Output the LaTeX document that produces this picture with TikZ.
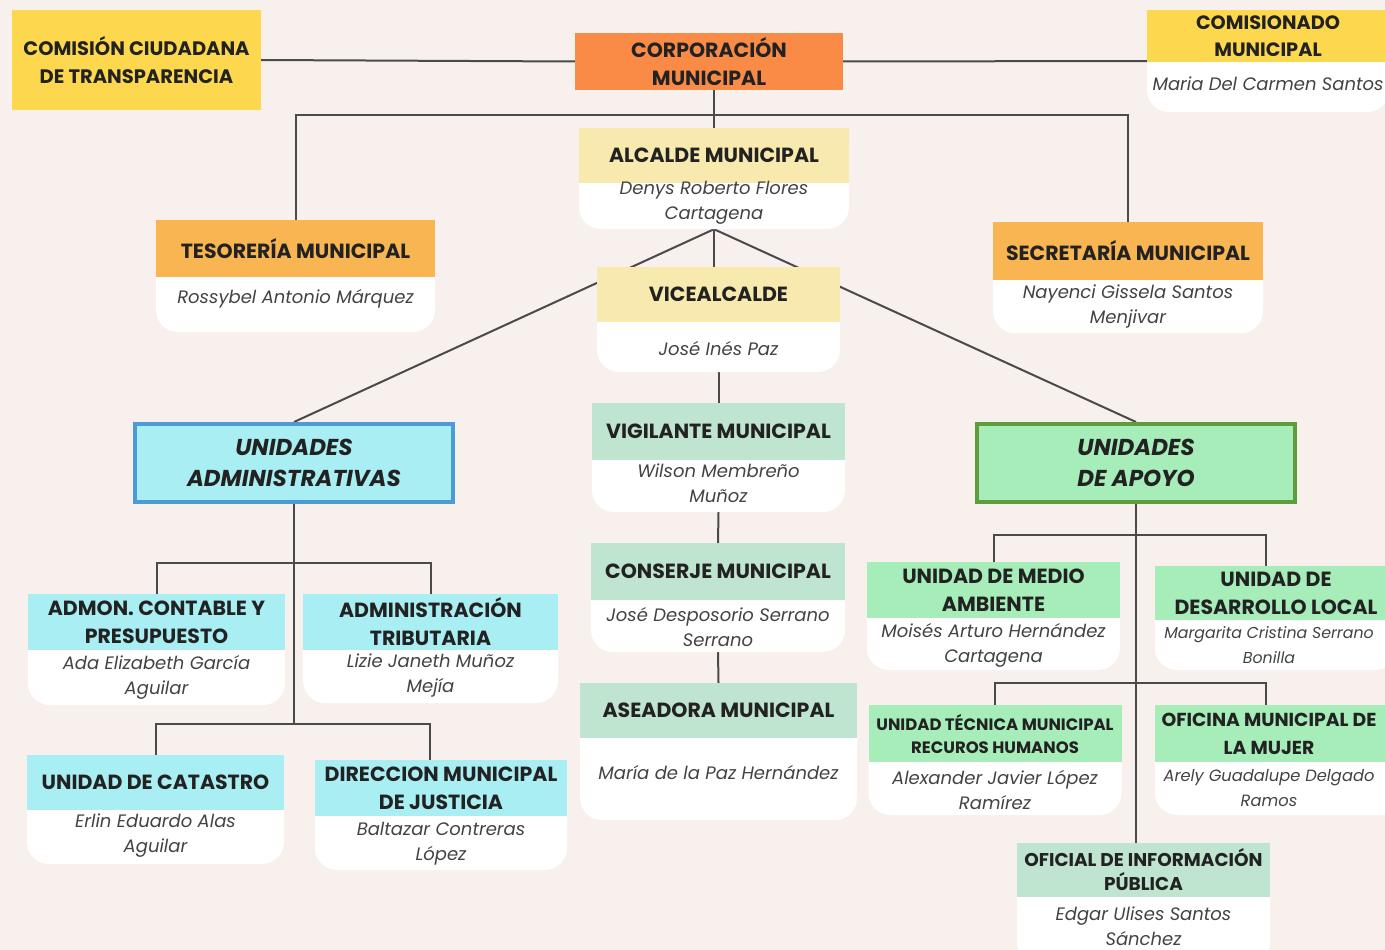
\documentclass[tikz,border=0pt]{standalone}
\usepackage{fontspec}
\setmainfont{Poppins}
\usetikzlibrary{positioning}
\pgfdeclarelayer{back}
\pgfsetlayers{back,main}

\definecolor{fondo}{HTML}{F7F0EC}
\definecolor{linea}{HTML}{4A4A4A}
\definecolor{texto}{HTML}{222222}
\definecolor{amarillo}{HTML}{FDD84F}
\definecolor{naranja}{HTML}{F98B47}
\definecolor{crema}{HTML}{F8EAAE}
\definecolor{dorado}{HTML}{F8B552}
\definecolor{celeste}{HTML}{A9EEF3}
\definecolor{azul}{HTML}{4C9BD6}
\definecolor{verde}{HTML}{A6EDB9}
\definecolor{verdeosc}{HTML}{5E9C3C}
\definecolor{menta}{HTML}{BFE4CF}

\begin{document}
\begin{tikzpicture}[x=1pt, y=-1pt,
    link/.style={linea, line width=2pt},
    card/.style={fill=white, rounded corners=22pt, inner sep=0pt},
    hdr/.style={anchor=north, inner sep=0pt, align=center, text=texto,
        font=\bfseries\fontsize{20.5}{28}\selectfont},
    who/.style={inner sep=0pt, align=center, text=texto!85,
        font=\itshape\fontsize{18}{25}\selectfont},
    unidad/.style={line width=4pt, inner sep=0pt, align=center, text=texto,
        minimum width=318pt, minimum height=78pt,
        font=\bfseries\itshape\fontsize{23}{31}\selectfont}]
    \useasboundingbox (0,0) rectangle (1385,950);
    \clip (0,0) rectangle (1385,950);

    % Top row
    \node[hdr, anchor=center, fill=amarillo, minimum width=249pt, minimum height=100pt, font=\bfseries\fontsize{19.5}{28}\selectfont] (cct) at (136.5,60) {COMISIÓN CIUDADANA\\DE TRANSPARENCIA};
    \node[hdr, anchor=center, fill=naranja, minimum width=268pt, minimum height=57pt] (corp) at (709,61.5) {CORPORACIÓN\\MUNICIPAL};

    \node[card, minimum width=242pt, minimum height=102pt] (comi) at (1268,61) {};
    \node[hdr, fill=amarillo, minimum width=242pt, minimum height=52pt, font=\bfseries\fontsize{19.3}{27}\selectfont] (comih) at (comi.north) {COMISIONADO\\MUNICIPAL};
    \node[who] (comin) at (1268,84) {Maria Del Carmen Santos};

    % Alcalde, tesoreria, secretaria
    \node[card, minimum width=270pt, minimum height=101pt] (alc) at (714,178.5) {};
    \node[hdr, fill=crema, minimum width=270pt, minimum height=55pt] (alch) at (alc.north) {ALCALDE MUNICIPAL};
    \node[who] (alcn) at (714,202.5) {Denys Roberto Flores\\Cartagena};

    \node[card, minimum width=279pt, minimum height=112pt] (tes) at (295.5,276) {};
    \node[hdr, fill=dorado, minimum width=279pt, minimum height=57pt] (tesh) at (tes.north) {TESORERÍA MUNICIPAL};
    \node[who] (tesn) at (295.5,299) {Rossybel Antonio Márquez};

    \node[card, minimum width=270pt, minimum height=111pt] (sec) at (1128,277.5) {};
    \node[hdr, fill=dorado, minimum width=270pt, minimum height=58pt] (sech) at (sec.north) {SECRETARÍA MUNICIPAL};
    \node[who] (secn) at (1128,306.5) {Nayenci Gissela Santos\\Menjivar};

    % Vicealcalde
    \node[card, minimum width=243pt, minimum height=105pt] (vice) at (718.5,319.5) {};
    \node[hdr, fill=crema, minimum width=243pt, minimum height=55pt] (viceh) at (vice.north) {VICEALCALDE};
    \node[who] (vicen) at (718.5,349) {José Inés Paz};

    % Unidades
    \node[unidad, draw=azul, fill=celeste] (ua) at (294,463) {UNIDADES\\ADMINISTRATIVAS};
    \node[unidad, draw=verdeosc, fill=verde] (ap) at (1136,463) {UNIDADES\\DE APOYO};

    % Center column
    \node[card, minimum width=253pt, minimum height=109pt] (vig) at (718.5,457.5) {};
    \node[hdr, fill=menta, minimum width=253pt, minimum height=57pt] (vigh) at (vig.north) {VIGILANTE MUNICIPAL};
    \node[who] (vign) at (718.5,483.5) {Wilson Membreño\\Muñoz};

    \node[card, minimum width=254pt, minimum height=109pt] (con) at (718,597.5) {};
    \node[hdr, fill=menta, minimum width=254pt, minimum height=57pt] (conh) at (con.north) {CONSERJE MUNICIPAL};
    \node[who] (conn) at (718,627.5) {José Desposorio Serrano\\Serrano};

    \node[card, minimum width=277pt, minimum height=137pt] (ase) at (718.5,751.5) {};
    \node[hdr, fill=menta, minimum width=277pt, minimum height=55pt] (aseh) at (ase.north) {ASEADORA MUNICIPAL};
    \node[who] (asen) at (718.5,773) {María de la Paz Hernández};

    % Unidades administrativas
    \node[card, minimum width=257pt, minimum height=111pt] (adm) at (156.5,649.5) {};
    \node[hdr, fill=celeste, minimum width=257pt, minimum height=56pt] (admh) at (adm.north) {ADMON. CONTABLE Y\\PRESUPUESTO};
    \node[who] (admn) at (156.5,677.5) {Ada Elizabeth García\\Aguilar};

    \node[card, minimum width=255pt, minimum height=109pt] (trib) at (430.5,648.5) {};
    \node[hdr, fill=celeste, minimum width=255pt, minimum height=56pt] (tribh) at (trib.north) {ADMINISTRACIÓN\\TRIBUTARIA};
    \node[who] (tribn) at (430.5,675) {Lizie Janeth Muñoz\\Mejía};

    \node[card, minimum width=257pt, minimum height=109pt] (cat) at (155.5,809.5) {};
    \node[hdr, fill=celeste, minimum width=257pt, minimum height=55pt] (cath) at (cat.north) {UNIDAD DE CATASTRO};
    \node[who] (catn) at (155.5,835.5) {Erlin Eduardo Alas\\Aguilar};

    \node[card, minimum width=252pt, minimum height=110pt] (dir) at (441,815) {};
    \node[hdr, fill=celeste, minimum width=252pt, minimum height=56pt] (dirh) at (dir.north) {DIRECCION MUNICIPAL\\DE JUSTICIA};
    \node[who] (dirn) at (441,844) {Baltazar Contreras\\López};

    % Unidades de apoyo
    \node[card, minimum width=253pt, minimum height=108pt] (uma) at (993.5,616) {};
    \node[hdr, fill=verde, minimum width=253pt, minimum height=56pt] (umah) at (uma.north) {UNIDAD DE MEDIO\\AMBIENTE};
    \node[who] (uman) at (993.5,645) {Moisés Arturo Hernández\\Cartagena};

    \node[card, minimum width=242pt, minimum height=104pt] (udl) at (1276,618) {};
    \node[hdr, fill=verde, minimum width=242pt, minimum height=54pt] (udlh) at (udl.north) {UNIDAD DE\\DESARROLLO LOCAL};
    \node[who, font=\itshape\fontsize{15.8}{25}\selectfont] (udln) at (1269,645) {Margarita Cristina Serrano\\Bonilla};

    \node[card, minimum width=253pt, minimum height=110pt] (utm) at (995,760) {};
    \node[hdr, fill=verde, minimum width=253pt, minimum height=57pt, font=\bfseries\fontsize{16.5}{23}\selectfont] (utmh) at (utm.north) {UNIDAD TÉCNICA MUNICIPAL\\RECUROS HUMANOS};
    \node[who] (utmn) at (995,789.5) {Alexander Javier López\\Ramírez};

    \node[card, minimum width=254pt, minimum height=110pt] (omm) at (1282,760) {};
    \node[hdr, fill=verde, minimum width=254pt, minimum height=57pt] (ommh) at (omm.north) {};
    \node[hdr, anchor=center, font=\bfseries\fontsize{18.8}{28}\selectfont] (ommt) at (1269,734) {OFICINA MUNICIPAL DE\\LA MUJER};
    \node[who, font=\itshape\fontsize{16.3}{25}\selectfont] (ommn) at (1269,788) {Arely Guadalupe Delgado\\Ramos};

    \node[card, minimum width=253pt, minimum height=122pt] (ofi) at (1143.5,904) {};
    \node[hdr, fill=menta, minimum width=253pt, minimum height=54pt, font=\bfseries\fontsize{18.5}{24}\selectfont] (ofih) at (ofi.north) {OFICIAL DE INFORMACIÓN\\PÚBLICA};
    \node[who] (ofin) at (1143.5,926.5) {Edgar Ulises Santos\\Sánchez};

    % Connectors, behind the cards
    \begin{pgfonlayer}{back}
        \fill[fondo] (0,0) rectangle (1385,950);
        \draw[link] (cct.east) -- (corp.west);
        \draw[link] (corp.east) -- (comi.west);
        \draw[link] (alc.north |- corp.south) -- (alc.north);
        \coordinate (top) at (714,115);
        \draw[link] (tes.north) |- (top) -| (sec.north);
        \draw[link] (alc.south) -- (vice.north -| alc.south);
        \draw[link] (alc.south) -- (ua.north);
        \draw[link] (alc.south) -- (ap.north);
        \draw[link] (vice.south) -- (vig.north);
        \draw[link] (vig.south) -- (con.north);
        \draw[link] (con.south) -- (ase.north);
        % left branches
        \coordinate (ua1) at (294,563);
        \coordinate (ua2) at (294,724);
        \draw[link] (ua.south) -- (ua2);
        \draw[link] (adm.north) |- (ua1) -| (trib.north);
        \draw[link] (cat.north) |- (ua2) -| ([xshift=-11pt]dir.north);
        % right branches
        \coordinate (ap1) at (1136,535);
        \coordinate (ap2) at (1136,683);
        \draw[link] (ap.south) -- (ap.south |- ofi.north);
        \draw[link] (uma.north) |- (ap1) -| ([xshift=-10pt]udl.north);
        \draw[link] (utm.north) |- (ap2) -| ([xshift=-16pt]omm.north);
    \end{pgfonlayer}
\end{tikzpicture}
\end{document}
